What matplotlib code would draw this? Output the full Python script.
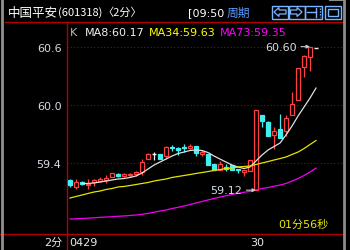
import matplotlib
matplotlib.use("Agg")
import matplotlib.pyplot as plt
from matplotlib.patches import Rectangle, Polygon
from matplotlib.lines import Line2D
from matplotlib.transforms import blended_transform_factory

plt.rcParams['font.family'] = ['DejaVu Sans', 'Noto Sans CJK SC']

# ---- data (2-minute candles) ----
opens  = [59.22, 59.15, 59.20, 59.17, 59.20, 59.21, 59.22, 59.26, 59.29, 59.265,
          59.275, 59.285, 59.31, 59.44, 59.49, 59.49, 59.47, 59.57, 59.555, 59.57,
          59.55, 59.58, 59.495, 59.49, 59.39, 59.33, 59.36, 59.38, 59.335, 59.31,
          59.32, 59.12, 59.89, 59.82, 59.69, 59.75, 59.725, 59.90, 60.05, 60.39,
          60.495, 60.59]
highs  = [59.24, 59.23, 59.21, 59.23, 59.24, 59.26, 59.28, 59.30, 59.30, 59.30,
          59.30, 59.32, 59.44, 59.50, 59.51, 59.49, 59.58, 59.59, 59.56, 59.60,
          59.595, 59.58, 59.53, 59.49, 59.39, 59.425, 59.39, 59.38, 59.34, 59.33,
          59.43, 59.95, 59.89, 59.83, 59.77, 59.91, 59.90, 60.13, 60.375, 60.51,
          60.60, 60.59]
lows   = [59.15, 59.13, 59.17, 59.13, 59.16, 59.20, 59.19, 59.26, 59.26, 59.26,
          59.26, 59.27, 59.28, 59.44, 59.43, 59.44, 59.44, 59.52, 59.48, 59.51,
          59.545, 59.475, 59.475, 59.38, 59.33, 59.33, 59.32, 59.33, 59.30, 59.27,
          59.32, 59.12, 59.77, 59.68, 59.545, 59.66, 59.68, 59.90, 60.05, 60.29,
          60.345, 60.59]
closes = [59.17, 59.20, 59.18, 59.18, 59.22, 59.23, 59.25, 59.30, 59.265, 59.29,
          59.285, 59.31, 59.415, 59.49, 59.49, 59.44, 59.56, 59.55, 59.535, 59.555,
          59.58, 59.505, 59.515, 59.38, 59.33, 59.39, 59.34, 59.33, 59.325, 59.325,
          59.43, 59.945, 59.83, 59.68, 59.725, 59.66, 59.865, 60.01, 60.375, 60.50,
          60.60, 60.59]

ma8_start = 2
ma8 = [59.189, 59.189, 59.194, 59.204, 59.214, 59.225, 59.235, 59.240, 59.251,
       59.266, 59.297, 59.338, 59.379, 59.410, 59.441, 59.472, 59.498, 59.513,
       59.529, 59.534, 59.529, 59.508, 59.472, 59.441, 59.410, 59.379, 59.359,
       59.343, 59.359, 59.421, 59.482, 59.534, 59.570, 59.606, 59.689, 59.781,
       59.884, 59.977, 60.070, 60.173]
ma34 = [59.039, 59.055, 59.070, 59.086, 59.101, 59.111, 59.127, 59.137, 59.153,
        59.158, 59.168, 59.178, 59.189, 59.199, 59.214, 59.225, 59.235, 59.251,
        59.261, 59.271, 59.281, 59.292, 59.302, 59.312, 59.323, 59.333, 59.343,
        59.348, 59.359, 59.364, 59.369, 59.385, 59.400, 59.415, 59.431, 59.446,
        59.462, 59.488, 59.513, 59.549, 59.591, 59.632]
ma73 = [58.823, 58.825, 58.828, 58.831, 58.835, 58.840, 58.843, 58.846, 58.851,
        58.854, 58.859, 58.864, 58.871, 58.881, 58.892, 58.905, 58.915, 58.931,
        58.943, 58.957, 58.972, 58.988, 59.003, 59.019, 59.034, 59.049, 59.063,
        59.075, 59.088, 59.098, 59.108, 59.122, 59.137, 59.147, 59.160, 59.173,
        59.189, 59.214, 59.240, 59.271, 59.307, 59.348]

ytick_vals = [59.4, 60.0, 60.6]
ytick_labels = ["59.4", "60.0", "60.6"]
xtick_pos = [-0.2, 30]
xtick_labels = ["0429", "30"]
hi_label, lo_label = "60.60", "59.12"
hi_idx, lo_idx = 40, 31

# ---- style ----
W, H = 350, 251
RED_UP = '#ff4040'
CYAN = '#40f0f0'
FRAME = '#b00000'
GRID = '#a00000'
TXT = '#d4dbe2'
CJK = ['Noto Sans CJK SC', 'DejaVu Sans']

fig = plt.figure(figsize=(W / 100, H / 100), dpi=100, facecolor='black')

def fx(x):
    return x / W

def fy(y):
    return 1 - y / H

ax = fig.add_axes([fx(67), fy(235), (342 - 67) / W, (235 - 23) / H])
ax.set_facecolor('black')
ax.set_xlim(-0.5, 45.33)
ax.set_ylim(58.668, 60.854)
for s in ['left', 'top', 'bottom']:
    ax.spines[s].set_color(FRAME)
    ax.spines[s].set_linewidth(1.0)
ax.spines['right'].set_visible(False)

ax.set_yticks(ytick_vals)
ax.set_yticklabels(ytick_labels, color=TXT, fontsize=8)
ax.tick_params(axis='y', length=0, pad=4)
ax.set_xticks([])
for v in ytick_vals:
    ax.axhline(v, color=GRID, lw=0.8, ls=(0, (1, 2)), zorder=1)

# candles
bw = 0.72
for i, (o, h, l, c) in enumerate(zip(opens, highs, lows, closes)):
    if c > o:
        col, fill = RED_UP, 'black'
    elif c < o:
        col, fill = CYAN, CYAN
    else:
        col, fill = '#f0f0f0', '#f0f0f0'
    ax.vlines(i, l, h, color=col, lw=0.9, zorder=3)
    if c != o:
        ax.bar(i, abs(c - o), bottom=min(o, c), width=bw, facecolor=fill,
               edgecolor=col, lw=0.9, zorder=4)
    else:
        ax.hlines(o, i - bw / 2, i + bw / 2, color=col, lw=1.0, zorder=4)

# moving averages
ax.plot(range(ma8_start, ma8_start + len(ma8)), ma8, color='#e0e0e0', lw=0.9, zorder=5)
ax.plot(range(len(ma34)), ma34, color='#e4e400', lw=0.9, zorder=5)
ax.plot(range(len(ma73)), ma73, color='#f000f0', lw=0.9, zorder=5)

# high / low annotations
arrow = dict(arrowstyle='-|>', color='#c8c8c8', lw=0.8, shrinkA=1, shrinkB=0,
             mutation_scale=5)
ax.annotate(hi_label, xy=(hi_idx, highs[hi_idx]), xytext=(37.8, highs[hi_idx]),
            ha='right', va='center', color=TXT, fontsize=8, arrowprops=arrow, zorder=6)
ax.annotate(lo_label, xy=(lo_idx, lows[lo_idx]), xytext=(28.7, lows[lo_idx]),
            ha='right', va='center', color=TXT, fontsize=8, arrowprops=arrow, zorder=6)

# x labels below axis
trans = blended_transform_factory(ax.transData, fig.transFigure)
for p, lab in zip(xtick_pos, xtick_labels):
    ax.text(p, fy(243), lab, transform=trans, ha='left', va='center',
            color='#e8e8e8', fontsize=8, clip_on=False)
fig.text(fx(62), fy(243), "2分", ha='right', va='center', color='#e8e8e8', fontsize=8)

# legend line
fig.text(fx(70), fy(33), "K", ha='left', va='center', color='#b8b8b8', fontsize=8)
fig.text(fx(85), fy(33), f"MA8:{ma8[-1]:.2f}", ha='left', va='center', color='#f0f0f0', fontsize=8)
fig.text(fx(149), fy(33), f"MA34:{ma34[-1]:.2f}", ha='left', va='center', color='#ffff00', fontsize=8)
fig.text(fx(220), fy(33), f"MA73:{ma73[-1]:.2f}", ha='left', va='center', color='#ff00ff', fontsize=8)

# countdown
fig.text(fx(278), fy(225), "01分56秒", ha='left', va='center', color='#e8e800', fontsize=8)

# title bar
fig.text(fx(8), fy(13), "中国平安", ha='left', va='center', color='white', fontsize=9, family=CJK)
fig.text(fx(58), fy(13), "(601318)", ha='left', va='center', color='white', fontsize=8, family=CJK)
fig.text(fx(102.5), fy(13), "〈2分〉", ha='left', va='center', color='white', fontsize=8, family=CJK)
fig.text(fx(188), fy(13), "[09:50", ha='left', va='center', color='white', fontsize=8)
fig.text(fx(227), fy(13), "周期", ha='left', va='center', color='#5a9cff', fontsize=8.5, family=CJK)

# frame lines outside axes
def fline(xs, ys, color, lw, **kw):
    fig.add_artist(Line2D([fx(x) for x in xs], [fy(y) for y in ys], color=color,
                          lw=lw, transform=fig.transFigure, **kw))

fline([5, 67], [23, 23], FRAME, 1.0)
fline([0, 67], [235, 235], FRAME, 1.0)
fline([67, 67], [235, 251], FRAME, 1.0)
fline([1.5, 1.5], [0, 251], '#909090', 2.0)
fline([343.5, 343.5], [0, 251], '#8c8c8c', 2.0)
fline([330, 343.5], [1, 1], '#8c8c8c', 1.5)

# toolbar icons
IC = '#7ab4ff'
def frect(x0, y0, x1, y1, **kw):
    fig.add_artist(Rectangle((fx(x0), fy(y1)), fx(x1) - fx(x0), fy(y0) - fy(y1),
                             transform=fig.transFigure, fill=False, **kw))

def fpoly(pts, **kw):
    fig.add_artist(Polygon([(fx(x), fy(y)) for x, y in pts], closed=True,
                           transform=fig.transFigure, fill=False, **kw))

frect(271.5, 6.5, 288, 19.5, edgecolor=IC, lw=1.0)
fpoly([(274, 13), (279, 8.5), (279, 11), (286, 11), (286, 15), (279, 15), (279, 17.5)],
      edgecolor=IC, lw=0.9)
frect(288.5, 6.5, 304.5, 19.5, edgecolor=IC, lw=1.0)
fpoly([(302, 13), (297, 8.5), (297, 11), (290.5, 11), (290.5, 15), (297, 15), (297, 17.5)],
      edgecolor=IC, lw=0.9)
frect(305, 6.5, 322, 19.5, edgecolor=IC, lw=1.0)
fline([307, 316], [13, 13], IC, 1.0)
fline([316, 316], [8.5, 17.5], IC, 1.0)
fline([319.5, 319.5], [8.5, 17.5], IC, 1.0, ls=(0, (1, 1)))
frect(325, 6.5, 341, 19.5, edgecolor=IC, lw=1.0)
frect(328, 9.5, 338, 16.5, edgecolor=IC, lw=1.0)

fig.savefig("out.png", dpi=100, facecolor='black')
